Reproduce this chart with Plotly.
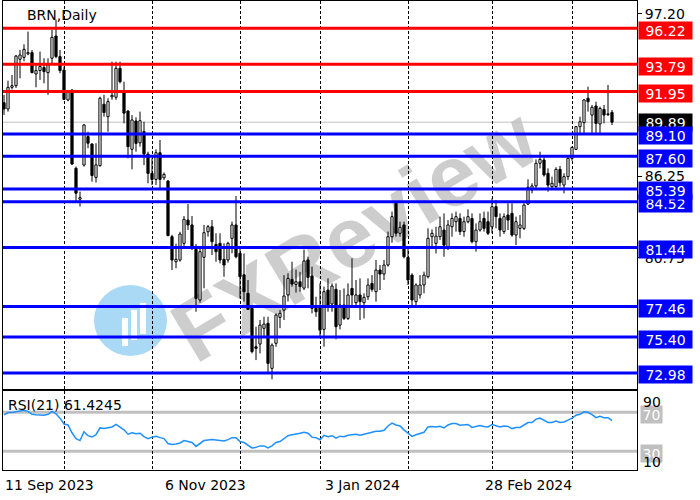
import plotly.graph_objects as go

# ---------------- data ----------------
bars = list(range(153))
opens = [91.20, 90.78, 92.24, 92.35, 94.13, 94.26, 94.50, 94.58, 93.14, 93.37,
         93.57, 93.23, 94.20, 95.70, 94.31, 93.41, 91.39, 92.06, 86.78, 84.70,
         87.00, 88.92, 88.42, 86.17, 86.96, 91.10, 90.26, 91.60, 91.57, 93.52,
         92.00, 90.64, 88.06, 89.97, 88.50, 89.25, 87.74, 86.44, 86.03, 87.83,
         86.14, 85.92, 82.17, 80.48, 80.60, 81.72, 83.29, 82.96, 81.32, 77.90,
         80.78, 82.50, 82.84, 81.65, 81.72, 80.64, 80.60, 82.06, 82.96, 81.05,
         79.60, 78.35, 77.34, 74.75, 74.93, 75.99, 76.33, 73.29, 74.98, 76.73,
         77.22, 78.24, 79.29, 78.95, 79.13, 78.70, 80.60, 79.52, 77.34, 77.45,
         75.92, 78.57, 77.63, 78.62, 76.21, 77.56, 76.66, 78.68, 77.72, 78.24,
         77.72, 78.12, 79.02, 78.46, 79.92, 79.65, 80.26, 82.17, 84.42, 82.40,
         82.96, 80.77, 79.58, 77.79, 78.24, 78.91, 79.47, 82.17, 81.72, 82.17,
         82.62, 81.50, 82.84, 83.18, 83.40, 82.51, 83.18, 83.40, 81.83, 82.62,
         83.40, 83.18, 82.84, 84.19, 83.40, 82.51, 83.63, 83.74, 82.28, 82.73,
         82.73, 84.37, 85.32, 85.59, 87.12, 87.34, 86.44, 85.54, 85.54, 86.71,
         85.65, 86.22, 87.45, 88.06, 89.59, 89.86, 91.50, 90.37, 90.98, 89.77,
         90.75, 90.40, 90.55]
highs = [91.73, 92.69, 93.07, 94.42, 94.76, 95.14, 96.00, 94.76, 93.75, 94.65,
         94.20, 94.20, 96.11, 96.80, 94.76, 93.64, 92.00, 92.10, 86.90, 85.21,
         89.77, 89.25, 88.47, 88.47, 91.61, 91.73, 91.50, 93.97, 93.97, 93.97,
         92.62, 90.70, 90.37, 90.22, 90.60, 89.92, 87.90, 87.45, 88.06, 88.69,
         86.50, 85.99, 82.30, 81.70, 82.50, 83.56, 84.37, 83.56, 81.68, 81.38,
         82.96, 82.96, 83.29, 82.40, 82.40, 81.72, 81.83, 83.18, 84.91, 81.40,
         81.04, 79.25, 77.40, 76.10, 76.55, 76.77, 76.77, 74.98, 77.00, 77.22,
         79.58, 79.70, 80.48, 79.95, 79.80, 81.30, 80.82, 80.15, 78.12, 79.02,
         78.80, 79.36, 79.02, 79.02, 78.57, 78.68, 79.02, 80.71, 79.25, 79.36,
         78.35, 79.36, 79.58, 80.60, 80.26, 80.60, 82.51, 83.86, 84.45, 83.18,
         83.18, 81.38, 79.70, 79.02, 79.58, 79.81, 82.73, 82.66, 82.84, 83.52,
         83.74, 83.29, 83.74, 83.86, 83.74, 83.52, 84.01, 83.74, 83.07, 83.74,
         83.86, 83.86, 84.75, 84.64, 83.74, 83.74, 84.42, 84.42, 83.52, 83.63,
         84.42, 86.04, 85.77, 87.38, 87.90, 87.52, 86.78, 86.22, 86.85, 86.94,
         86.44, 87.61, 88.24, 89.63, 90.26, 91.43, 92.28, 91.05, 91.27, 90.94,
         91.05, 92.40, 90.71]
lows = [90.38, 90.60, 92.10, 92.20, 92.85, 94.00, 94.40, 93.19, 92.24, 92.74,
        92.51, 91.73, 93.75, 94.20, 93.19, 91.39, 91.30, 87.00, 84.54, 84.20,
        86.89, 88.13, 85.88, 85.82, 86.89, 90.26, 89.25, 91.40, 91.39, 92.51,
        89.81, 87.45, 86.71, 87.90, 88.24, 87.00, 85.77, 85.65, 85.65, 85.43,
        86.00, 82.20, 79.92, 80.04, 80.48, 81.39, 82.62, 81.27, 77.11, 77.72,
        78.69, 82.17, 80.93, 80.48, 80.37, 79.47, 80.42, 81.05, 80.71, 78.01,
        77.79, 77.23, 74.30, 73.85, 74.30, 75.43, 73.00, 72.55, 74.75, 76.00,
        76.55, 77.80, 78.80, 78.40, 78.46, 78.57, 78.69, 77.00, 76.77, 75.43,
        74.75, 77.11, 77.11, 75.25, 75.92, 76.55, 76.55, 77.45, 77.45, 76.55,
        76.66, 77.90, 78.46, 77.79, 78.57, 79.25, 80.15, 81.76, 82.17, 82.17,
        80.71, 78.91, 77.56, 77.45, 78.00, 78.35, 79.36, 81.38, 81.04, 81.95,
        80.82, 81.27, 82.17, 82.51, 82.28, 82.17, 83.07, 81.72, 81.16, 82.51,
        82.51, 82.28, 82.40, 82.73, 82.17, 82.35, 82.62, 82.17, 81.61, 82.06,
        82.62, 84.30, 85.09, 85.43, 86.78, 86.22, 85.20, 85.32, 85.32, 85.54,
        85.09, 85.99, 87.29, 88.01, 89.14, 89.14, 90.60, 89.14, 89.10, 89.14,
        89.81, 90.30, 89.70]
closes = [90.78, 92.24, 92.35, 94.35, 94.42, 94.80, 94.58, 93.23, 93.37, 93.64,
          93.30, 93.75, 95.61, 94.31, 93.37, 91.43, 91.95, 87.07, 85.10, 84.80,
          89.70, 88.47, 86.29, 87.01, 91.50, 90.54, 91.28, 91.70, 93.52, 92.62,
          90.50, 88.24, 90.04, 88.46, 89.99, 87.74, 86.44, 86.03, 87.83, 86.03,
          86.37, 82.24, 80.60, 80.64, 82.35, 83.34, 82.96, 81.38, 78.01, 81.16,
          82.44, 82.84, 81.83, 81.16, 80.60, 80.26, 81.72, 82.96, 80.82, 79.47,
          78.46, 77.27, 74.42, 74.64, 76.21, 76.28, 73.63, 74.86, 76.89, 77.00,
          78.17, 79.36, 78.98, 79.13, 78.80, 80.53, 79.43, 77.34, 77.11, 75.87,
          78.46, 77.45, 78.84, 76.10, 77.56, 76.66, 78.24, 78.24, 78.24, 77.79,
          78.08, 78.91, 78.62, 79.92, 79.65, 80.26, 82.17, 83.52, 82.40, 82.80,
          80.82, 79.25, 77.90, 78.91, 78.91, 79.58, 82.06, 82.40, 82.21, 82.84,
          81.60, 82.96, 83.40, 83.52, 82.51, 83.18, 83.52, 81.83, 82.62, 83.18,
          82.73, 82.40, 84.19, 83.52, 82.62, 83.52, 83.29, 82.28, 83.18, 82.96,
          84.30, 85.50, 85.59, 87.12, 87.38, 86.33, 85.65, 85.77, 86.71, 85.81,
          86.22, 87.45, 88.19, 89.59, 89.92, 91.39, 91.27, 90.89, 89.81, 90.82,
          90.37, 90.45, 89.89]
rsi = [67.3, 69.7, 69.7, 70.5, 71.0, 72.0, 71.0, 68.0, 67.5, 67.5,
       67.0, 68.0, 71.0, 68.5, 64.0, 58.0, 57.0, 49.0, 43.0, 41.0,
       50.0, 46.0, 44.6, 47.0, 54.0, 53.5, 54.0, 55.0, 57.5, 55.0,
       52.0, 47.5, 49.0, 48.0, 48.5, 45.0, 43.0, 44.5, 45.5, 44.0,
       43.0, 38.0, 37.0, 37.5, 38.5, 41.0, 40.0, 39.0, 35.0, 38.5,
       41.0, 41.5, 42.0, 41.5, 41.0, 40.5, 42.0, 44.0, 44.0, 40.0,
       39.0, 36.0, 33.5, 34.0, 35.5, 35.5, 33.5, 35.5, 39.0, 40.0,
       43.0, 46.0, 47.0, 47.5, 48.5, 49.5, 48.5, 44.5, 44.0, 41.8,
       46.3, 45.0, 46.0, 43.5, 45.5, 45.0, 46.5, 47.0, 47.4, 46.5,
       47.4, 48.5, 49.0, 50.5, 50.5, 51.5, 56.0, 59.0, 57.0, 56.0,
       52.0, 48.8, 45.3, 47.0, 48.0, 49.5, 55.0, 55.5, 55.0, 55.7,
       54.0, 57.0, 58.5, 58.5, 56.8, 57.5, 57.5, 54.5, 55.5, 56.5,
       55.5, 55.0, 57.5, 56.5, 55.0, 56.0, 55.5, 53.3, 54.5, 54.5,
       57.0, 59.5, 59.5, 63.0, 64.0, 61.5, 59.5, 59.5, 61.0, 59.5,
       60.0, 62.0, 64.0, 67.0, 68.0, 70.5, 70.0, 67.5, 64.5, 66.0,
       64.5, 64.5, 61.42]

date_labels = ["11 Sep 2023", "6 Nov 2023", "3 Jan 2024", "28 Feb 2024"]
date_label_bars = [0, 40, 80, 120]
grid_bars = [15, 37, 59, 79, 101, 122, 142]
red_levels = [96.22, 93.79, 91.95]
blue_levels = [89.10, 87.60, 84.52, 85.39, 81.44, 77.46, 75.40, 72.98]
last_price = 89.89
price_ticks = [97.20, 86.25, 80.75]
rsi_levels = [70, 30]
rsi_scale_labels = ["90", "10"]
title_text = "BRN,Daily"
rsi_text = "RSI(21) 61.4245"
watermark = "FXReview"

# ---------------- geometry helpers ----------------
W, H = 700, 500
ML, MR, MT, MB = 3, 63, 1, 30
PW = W - ML - MR
PH = H - MT - MB
FONT = "DejaVu Sans"


def px_x(px):
    return (px - ML) / PW


def px_y(py):
    return (H - MB - py) / PH


fig = go.Figure()

# candle bodies (bars) and wicks (segments outside the body)
body_base = [min(o, c) for o, c in zip(opens, closes)]
body_len = [abs(c - o) for o, c in zip(opens, closes)]
body_col = ["white" if c >= o else "black" for o, c in zip(opens, closes)]
wx, wy = [], []
for i, o, h, l, c in zip(bars, opens, highs, lows, closes):
    wx += [i, i, None, i, i, None]
    wy += [max(o, c), h, None, min(o, c), l, None]

fig.add_trace(go.Scatter(x=wx, y=wy, mode="lines", line=dict(color="black", width=1),
                         xaxis="x", yaxis="y", hoverinfo="skip", showlegend=False,
                         connectgaps=False))
fig.add_trace(go.Bar(x=bars, y=body_len, base=body_base, width=0.55,
                     marker=dict(color=body_col, line=dict(color="black", width=1)),
                     xaxis="x", yaxis="y", hoverinfo="skip", showlegend=False))

fig.add_trace(go.Scatter(
    x=bars, y=rsi, mode="lines", line=dict(color="#1e90ff", width=1.5),
    xaxis="x2", yaxis="y2", hoverinfo="skip", showlegend=False,
))

shapes = []
annotations = []

# watermark
shapes.append(dict(type="rect", xref="paper", yref="paper",
                   x0=px_x(160), x1=px_x(540), y0=px_y(330), y1=px_y(125),
                   line=dict(width=0), fillcolor="rgba(0,0,0,0)", layer="below",
                   label=dict(text=watermark, textangle=-31, textposition="middle center",
                              font=dict(family="Liberation Sans", size=86, color="#cdcdcd",
                                        weight="bold"))))
shapes.append(dict(type="circle", xref="paper", yref="paper",
                   x0=px_x(94), x1=px_x(167), y0=px_y(356), y1=px_y(285),
                   line=dict(width=0), fillcolor="#a9d9f5", layer="below"))
for (a, b, c, d) in [(122, 128, 318, 346), (131, 137, 310, 340), (140, 146, 303, 334)]:
    shapes.append(dict(type="rect", xref="paper", yref="paper",
                       x0=px_x(a), x1=px_x(b), y0=px_y(d), y1=px_y(c),
                       line=dict(width=0), fillcolor="white", layer="below"))

# current price line
shapes.append(dict(type="line", xref="x domain", x0=0, x1=1, yref="y",
                   y0=last_price, y1=last_price,
                   line=dict(color="#c0c0c0", width=1), layer="below"))

# rsi levels
for lv in rsi_levels:
    shapes.append(dict(type="line", xref="x2 domain", x0=0, x1=1, yref="y2",
                       y0=lv, y1=lv, line=dict(color="#c0c0c0", width=3), layer="below"))

# horizontal levels
for lv in red_levels:
    shapes.append(dict(type="line", xref="x domain", x0=0, x1=1, yref="y",
                       y0=lv, y1=lv, line=dict(color="#ff0000", width=3), layer="above"))
for lv in blue_levels:
    shapes.append(dict(type="line", xref="x domain", x0=0, x1=1, yref="y",
                       y0=lv, y1=lv, line=dict(color="#0000ff", width=3), layer="above"))


def price_box(v, color, yshift):
    annotations.append(dict(
        xref="paper", x=px_x(638), xanchor="left", yref="y", y=v, yanchor="middle",
        yshift=yshift, text=f"{v:.2f}", showarrow=False, bgcolor=color,
        width=51, height=15, borderpad=1, align="center",
        font=dict(family=FONT, size=14, color="white")))


for lv in red_levels:
    price_box(lv, "#ff0000", -2)
price_box(last_price, "#000000", 0)
for lv in blue_levels:
    price_box(lv, "#0000ff", -2)

# rsi scale
for lv in rsi_levels:
    annotations.append(dict(
        xref="paper", x=px_x(640), xanchor="left", yref="y2", y=lv, yanchor="middle",
        yshift=-2, text=str(lv), showarrow=False, bgcolor="#c0c0c0",
        width=19, height=15, borderpad=1, align="center",
        font=dict(family=FONT, size=14, color="white")))
for txt, py in zip(rsi_scale_labels, [402, 462]):
    annotations.append(dict(
        xref="paper", x=px_x(641), xanchor="left", yref="paper", y=px_y(py),
        yanchor="middle", text=txt, showarrow=False,
        font=dict(family=FONT, size=14, color="black")))

# title & rsi label
annotations.append(dict(xref="paper", x=px_x(25), xanchor="left", yref="paper",
                        y=px_y(15), yanchor="middle", text=title_text, showarrow=False,
                        font=dict(family=FONT, size=14, color="black")))
annotations.append(dict(xref="paper", x=px_x(6), xanchor="left", yref="paper",
                        y=px_y(405), yanchor="middle", text=rsi_text, showarrow=False,
                        font=dict(family=FONT, size=14, color="black")))

# date labels
for txt, b in zip(date_labels, date_label_bars):
    annotations.append(dict(xref="x2", x=b, xanchor="left", xshift=-1, yref="paper",
                            y=px_y(485), yanchor="middle", text=txt, showarrow=False,
                            font=dict(family=FONT, size=14, color="black")))

main_dom = [px_y(389), 1.0]
rsi_dom = [0.0, px_y(391)]

xcommon = dict(range=[-0.25, 158.25], tickmode="array", tickvals=grid_bars,
               showticklabels=False, ticks="", showgrid=True, gridcolor="black",
               griddash="3px,2px", gridwidth=1, showline=True, mirror=True,
               linecolor="black", linewidth=1, zeroline=False, fixedrange=True)

fig.update_layout(
    width=W, height=H,
    margin=dict(l=ML, r=MR, t=MT, b=MB, pad=0),
    paper_bgcolor="white", plot_bgcolor="white",
    showlegend=False, bargap=0,
    xaxis=dict(domain=[0, 1], anchor="y", **xcommon),
    xaxis2=dict(domain=[0, 1], anchor="y2", matches="x", **xcommon),
    yaxis=dict(domain=main_dom, anchor="x", range=[71.90, 98.06], side="right",
               tickmode="array", tickvals=price_ticks,
               ticktext=[f"{v:.2f}" for v in price_ticks],
               ticks="outside", ticklen=4, tickcolor="black",
               tickfont=dict(family=FONT, size=14, color="black"),
               showgrid=False, showline=True, mirror=True, linecolor="black",
               linewidth=1, zeroline=False, fixedrange=True),
    yaxis2=dict(domain=rsi_dom, anchor="x2", range=[10.8, 91.85], side="right",
                showticklabels=False, ticks="", showgrid=False, showline=True,
                mirror=True, linecolor="black", linewidth=1, zeroline=False,
                fixedrange=True),
    shapes=shapes,
    annotations=annotations,
)

fig.write_html("out.html", config={"displayModeBar": False, "staticPlot": True},
               post_script="document.body.style.margin='0px';")
